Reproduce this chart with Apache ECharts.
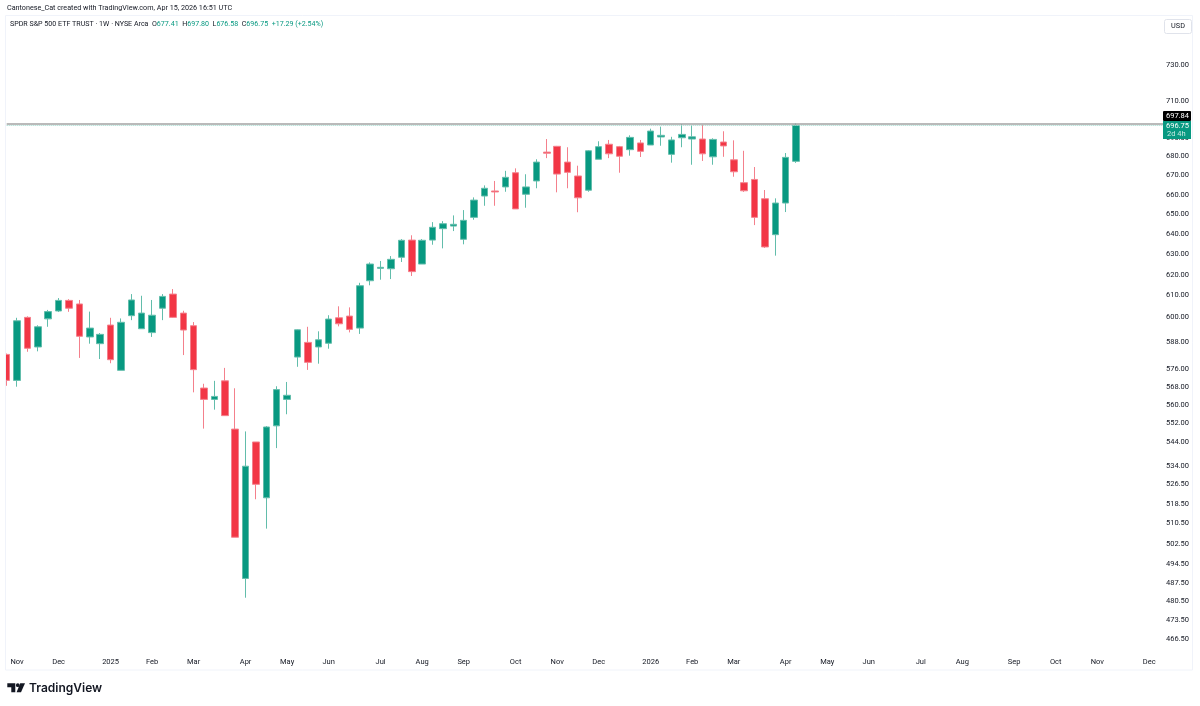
<!DOCTYPE html>
<html>
<head>
<meta charset="utf-8">
<title>SPY weekly</title>
<script src="https://cdn.jsdelivr.net/npm/echarts@6/dist/echarts.min.js"></script>
<style>
  html, body { margin: 0; padding: 0; background: #fff; }
  #chart { width: 1200px; height: 706px; }
</style>
</head>
<body>
<div id="chart"></div>
<script>
// weekly candles, first one is the week of 2024-10-28
var opens = [582.6,570.9,599.7,586.0,599.0,602.7,607.7,606.0,590.6,587.5,596.1,575.4,600.5,594.4,592.6,604.0,610.7,601.7,595.8,567.5,
  562.5,570.7,549.6,489.1,544.1,520.9,551.0,562.5,581.4,588.1,586.0,587.7,599.5,600.3,594.7,617.1,623.1,622.9,628.5,637.0,
  625.2,637.0,642.7,644.0,637.4,648.4,659.3,661.9,664.0,671.4,660.2,667.1,682.3,685.4,677.0,669.7,662.3,678.5,686.5,685.2,
  683.6,687.2,686.1,690.4,681.1,690.0,689.3,689.3,679.8,687.7,678.2,666.2,667.9,657.9,639.7,655.7,677.41];
var closes = [570.9,598.1,585.4,595.3,602.4,607.7,604.0,590.9,594.7,591.8,580.2,597.4,607.9,601.7,600.7,609.6,599.7,593.8,575.7,562.5,
  563.8,555.4,505.1,533.9,526.4,550.5,566.8,564.3,593.9,579.0,589.3,598.9,596.7,594.1,614.7,625.2,623.6,627.5,636.9,621.5,
  636.9,643.4,645.2,644.9,646.9,657.2,663.3,661.4,669.0,652.7,664.0,677.0,681.7,670.7,671.6,658.4,683.0,685.2,681.4,680.1,
  690.2,682.7,693.6,691.3,688.8,691.8,690.5,681.4,689.1,685.6,671.9,662.0,648.4,633.6,655.7,679.5,696.75];
var lows = [568.5,568.1,583.8,584.0,595.3,602.2,602.3,581.0,587.5,580.5,578.6,575.4,598.4,594.4,590.6,598.4,599.4,582.3,565.6,549.8,
  558.0,555.4,505.1,481.8,520.3,508.5,541.5,556.0,577.0,575.6,578.4,585.2,595.5,592.7,592.0,614.9,617.6,617.9,626.2,619.4,
  625.2,634.7,632.9,641.5,634.9,647.2,654.3,654.3,661.5,652.7,653.3,663.3,679.1,661.2,663.3,651.0,661.5,678.5,679.1,671.4,
  680.4,679.7,686.1,685.7,676.7,684.9,675.6,677.6,675.6,679.8,669.3,661.4,644.5,633.1,629.3,651.1,676.58];
var highs = [583.0,599.5,600.2,596.0,603.2,608.8,608.3,607.9,602.4,592.4,599.5,599.2,610.7,609.9,607.9,610.7,613.1,602.8,597.5,569.4,
  570.7,576.5,567.4,548.6,544.1,550.9,568.3,570.2,594.1,595.3,593.2,600.7,604.9,604.4,616.1,626.0,626.7,629.1,637.5,639.4,
  637.5,646.0,646.5,649.4,652.1,658.6,664.8,667.1,672.4,673.7,670.6,678.5,689.3,685.6,684.9,675.1,683.4,688.1,688.8,685.6,
  691.3,688.8,694.9,696.0,690.5,697.4,696.7,697.0,689.7,693.5,688.6,683.0,674.4,662.4,658.1,681.8,697.80];

// time axis: week index of each label, then its text
var timeTicks = [1,5,10,14,18,23,27,31,36,40,44,49,53,57,62,66,70,75,79,83,88,92,97,101,105,110];
var timeLabels = ['Nov','Dec','2025','Feb','Mar','Apr','May','Jun','Jul','Aug','Sep','Oct','Nov','Dec','2026','Feb','Mar','Apr','May','Jun','Jul','Aug','Sep','Oct','Nov','Dec'];
var priceTicks = [730,710,690,680,670,660,650,640,630,620,610,600,588,576,568,560,552,544,534,526.5,518.5,510.5,502.5,494.5,487.5,480.5,473.5,466.5];
var highLevel = 697.84;
var lastClose = 696.75;

var candles = opens.map(function (o, i) {
    return [i, o, closes[i], lows[i], highs[i]];
});

var GREEN = '#089981', RED = '#F23645', TEXT = '#131722', FONT = 'Roboto';

var myChart = echarts.init(document.getElementById('chart'), null, { renderer: 'canvas' });
myChart.setOption({
    animation: false,
    backgroundColor: '#fff',
    textStyle: { fontFamily: FONT },
    grid: { left: 6.7, right: 35, top: 15, bottom: 54 },
    xAxis: {
        type: 'value',
        min: 0,
        max: 111.52,
        splitLine: { show: false },
        axisLine: { show: false },
        axisTick: { show: false },
        axisLabel: {
            customValues: timeTicks,
            formatter: function (v) { return timeLabels[timeTicks.indexOf(v)]; },
            color: TEXT, fontSize: 7.5, margin: 6, fontFamily: FONT
        }
    },
    yAxis: {
        type: 'log',
        position: 'right',
        min: 461.8,
        max: 759.4,
        splitLine: { show: false },
        axisLine: { show: false },
        axisTick: { show: false },
        axisLabel: {
            customValues: priceTicks,
            formatter: function (v) { return Number(v).toFixed(2); },
            color: TEXT, fontSize: 7.5, margin: 24, align: 'right', padding: [3, 0, 0, 0], fontFamily: FONT
        }
    },
    series: [{
        type: 'candlestick',
        data: candles,
        encode: { x: 0, y: [1, 2, 3, 4] },
        barWidth: 7,
        itemStyle: {
            color: GREEN, color0: RED,
            borderColor: '#62BDAB', borderColor0: '#F4808C',
            borderWidth: 1
        },
        markLine: {
            silent: true,
            symbol: 'none',
            label: { show: false },
            data: [
                { yAxis: highLevel, lineStyle: { color: '#A3A3A3', width: 1.6, type: 'solid' } },
                { yAxis: lastClose, lineStyle: { color: '#9FD8CC', width: 1, type: 'dotted' } }
            ]
        }
    }],
    graphic: [
        // the first candle is cut off by the pane edge
        { type: 'rect', silent: true, z: 5, shape: { x: 0, y: 340, width: 6, height: 60 }, style: { fill: '#fff' } },
        { type: 'rect', silent: true, z: 6, shape: { x: 5.5, y: 15.5, width: 1187, height: 654.5 },
          style: { fill: 'none', stroke: '#F0F3FA', lineWidth: 1 } },
        { type: 'text', z: 10, x: 7, y: 5, style: {
            text: 'Cantonese_Cat created with TradingView.com, Apr 15, 2026 16:51 UTC',
            fill: TEXT, font: '7.2px ' + FONT } },
        { type: 'text', z: 10, x: 10, y: 21, style: {
            text: '{k|SPDR S&P 500 ETF TRUST · 1W · NYSE Arca  O}{v|677.41}{k|  H}{v|697.80}{k|  L}{v|676.58}{k|  C}{v|696.75}{v|  +17.29 (+2.54%)}',
            font: '7.1px ' + FONT,
            rich: {
                k: { fill: TEXT, font: '7.1px ' + FONT },
                v: { fill: GREEN, font: '7.1px ' + FONT }
            } } },
        // USD box
        { type: 'rect', z: 10, shape: { x: 1164.5, y: 19.5, width: 27, height: 14, r: 2 },
          style: { fill: '#fff', stroke: '#E0E3EB', lineWidth: 1 } },
        { type: 'text', z: 11, x: 1178, y: 26.5, style: {
            text: 'USD', fill: TEXT, font: '7.3px ' + FONT, align: 'center', verticalAlign: 'middle' } },
        // price tags
        { type: 'rect', z: 12, shape: { x: 1163, y: 111, width: 28, height: 10, r: 1 }, style: { fill: '#000' } },
        { type: 'text', z: 13, x: 1189, y: 116, style: {
            text: highLevel.toFixed(2), fill: '#fff', font: '7.5px ' + FONT, align: 'right', verticalAlign: 'middle' } },
        { type: 'rect', z: 12, shape: { x: 1163, y: 121, width: 28, height: 18 }, style: { fill: GREEN } },
        { type: 'text', z: 13, x: 1189, y: 126, style: {
            text: lastClose.toFixed(2), fill: '#fff', font: '7.5px ' + FONT, align: 'right', verticalAlign: 'middle' } },
        { type: 'text', z: 13, x: 1167, y: 134, style: {
            text: '2d 4h', fill: '#C8EBE4', font: '7.5px ' + FONT, align: 'left', verticalAlign: 'middle' } },
        // TradingView logo
        { type: 'polygon', z: 10, shape: { points: [[7.3, 683.3], [15.3, 683.3], [15.3, 692.3], [11.3, 692.3], [11.3, 687.2], [7.3, 687.2]] },
          style: { fill: '#131722' } },
        { type: 'polygon', z: 10, shape: { points: [[20.2, 683.3], [25, 683.3], [21, 692.3], [16.6, 692.3]] },
          style: { fill: '#131722' } },
        { type: 'circle', z: 10, shape: { cx: 17.8, cy: 685.2, r: 1.9 }, style: { fill: '#131722' } },
        { type: 'text', z: 10, x: 29, y: 688, style: {
            text: 'TradingView', fill: '#131722', font: '600 12px Inter', verticalAlign: 'middle' } }
    ]
});
</script>
</body>
</html>
